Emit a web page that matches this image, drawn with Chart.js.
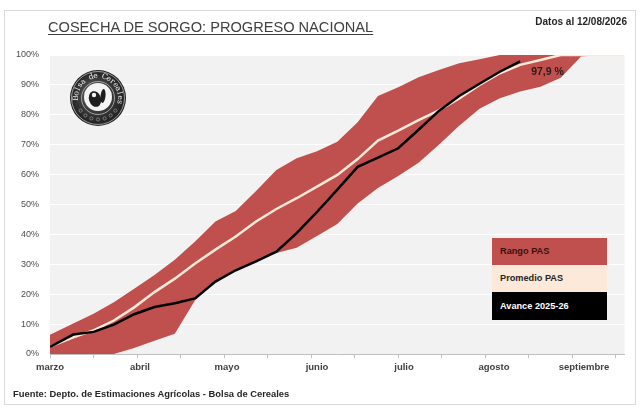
<!DOCTYPE html>
<html lang="es">
<head>
    <meta charset="UTF-8">
    <title>Cosecha de sorgo: progreso nacional</title>
    <script src="https://cdn.jsdelivr.net/npm/chart.js"></script>
    <style>
        body {
            margin: 0;
            background: #ffffff;
            font-family: "Liberation Sans", Arial, sans-serif;
        }
        #wrap {
            position: relative;
            width: 640px;
            height: 409px;
            overflow: hidden;
        }
        #frame {
            position: absolute;
            left: 4px; top: 10px;
            width: 630px; height: 393px;
            border: 1px solid #d9d9d9;
        }
        #chartBox {
            position: absolute;
            left: 0; top: 0;
            width: 640px; height: 409px;
        }
        .txt {
            position: absolute;
            white-space: nowrap;
            z-index: 2;
        }
        #title {
            left: 48px; top: 19px;
            font-size: 14.6px;
            color: #404040;
            text-decoration: underline;
            text-underline-offset: 2px;
        }
        #fecha {
            right: 13px; top: 16px;
            font-size: 10px;
            font-weight: bold;
            color: #262626;
        }
        #fuente {
            left: 13px; top: 388px;
            font-size: 9.4px;
            font-weight: bold;
            color: #262626;
        }
        .leg {
            position: absolute;
            left: 492px;
            width: 115px;
            z-index: 2;
            font-size: 9.2px;
            font-weight: bold;
            box-sizing: border-box;
            padding-left: 8px;
        }
    </style>
</head>
<body>
<div id="wrap">
    <div id="frame"></div>
    <div id="chartBox"><canvas id="sorgoChart"></canvas></div>
    <div class="txt" id="title">COSECHA DE SORGO: PROGRESO NACIONAL</div>
    <div class="txt" id="fecha">Datos al 12/08/2026</div>
    <div class="txt" id="fuente">Fuente: Depto. de Estimaciones Agrícolas - Bolsa de Cereales</div>
    <div class="leg" id="legRango" style="top:238px;height:27px;line-height:27px;background:#c0504d;color:#3a1010;">Rango PAS</div>
    <div class="leg" id="legProm" style="top:265px;height:27px;line-height:27px;background:#fde9d9;color:#262626;">Promedio PAS</div>
    <div class="leg" id="legAvance" style="top:292px;height:28px;line-height:28px;background:#000000;color:#ffffff;">Avance 2025-26</div>
</div>

<script>
    // dias desde el 1 de marzo (fechas de relevamiento semanal)
    const dias = [0, 8, 15, 22, 29, 36, 43, 50, 57, 64, 71, 78, 85, 92, 99, 106, 113, 120, 127, 134, 141, 148, 155, 162, 169, 176, 183, 190, 198];

    // % cosechado
    const promedioPAS = [2.5, 5.6, 7.9, 11.2, 15.6, 20.7, 25.2, 30.3, 34.9, 39.3, 44.3, 48.5, 52.1, 56.0, 59.9, 65.2, 71.4, 74.7, 78.2, 81.5, 85.5, 90.0, 93.9, 96.7, 98.3, 100, 100, 100, 100];
    const rangoMax = [6.4, 10.2, 13.5, 17.3, 21.8, 26.4, 31.5, 37.6, 44.3, 47.8, 54.5, 61.5, 65.5, 67.8, 71.0, 77.5, 86.3, 89.2, 92.6, 95.0, 97.2, 98.6, 100, 100, 100, 100, 100, 100, 100];
    const rangoMin = [0, 0, 0, 0, 2.0, 4.4, 6.8, 18.0, 24.3, 27.8, 31.0, 33.8, 35.5, 39.5, 43.5, 50.3, 55.5, 59.5, 64.0, 70.0, 76.3, 82.0, 85.5, 87.8, 89.4, 92.4, 99.5, 100, 100];
    const avance = [2.4, 6.5, 7.4, 9.8, 13.3, 15.7, 17.0, 18.6, 24.2, 28.0, 31.0, 34.2, 40.4, 47.5, 55.0, 62.6, 65.7, 68.8, 75.0, 81.3, 86.3, 90.4, 94.4, 97.9];

    // eje x
    const mesesLabels = ['marzo', 'abril', 'mayo', 'junio', 'julio', 'agosto', 'septiembre'];
    const mesesDias = [0, 31, 61, 92, 122, 153, 184];
    const xMax = 198;
    const pasoMarcas = 15;

    const toPoints = (vals) => vals.map((v, i) => ({ x: dias[i], y: v }));

    const fondoPlot = {
        id: 'fondoPlot',
        beforeDraw(chart) {
            const { ctx, chartArea: a } = chart;
            ctx.save();
            ctx.fillStyle = '#f2f2f2';
            ctx.fillRect(a.left, a.top, a.width, a.height);
            ctx.restore();
        }
    };

    const etiquetaFinal = {
        id: 'etiquetaFinal',
        afterDatasetsDraw(chart) {
            const meta = chart.getDatasetMeta(0);
            const last = meta.data[meta.data.length - 1];
            if (!last) return;
            const ctx = chart.ctx;
            const v = avance[avance.length - 1];
            ctx.save();
            ctx.font = 'bold 10.5px "Liberation Sans", Arial, sans-serif';
            ctx.fillStyle = '#2a1a1a';
            ctx.textAlign = 'left';
            ctx.textBaseline = 'middle';
            ctx.fillText(v.toFixed(1).replace('.', ',') + ' %', last.x + 11, last.y + 11);
            ctx.restore();
        }
    };

    // sello de la Bolsa de Cereales
    const logo = {
        id: 'logo',
        afterDraw(chart) {
            const ctx = chart.ctx;
            const cx = 98, cy = 98, r = 28;
            ctx.save();
            const g = ctx.createRadialGradient(cx - 6, cy - 6, 4, cx, cy, r);
            g.addColorStop(0, '#5a5a5a');
            g.addColorStop(1, '#1e1e1e');
            ctx.fillStyle = g;
            ctx.beginPath(); ctx.arc(cx, cy, r, 0, Math.PI * 2); ctx.fill();
            ctx.strokeStyle = '#bdbdbd';
            ctx.lineWidth = 0.8;
            ctx.beginPath(); ctx.arc(cx, cy, r - 1.5, 0, Math.PI * 2); ctx.stroke();
            ctx.beginPath(); ctx.arc(cx, cy, 16.5, 0, Math.PI * 2); ctx.stroke();
            ctx.fillStyle = '#f4f4f4';
            ctx.beginPath(); ctx.arc(cx, cy - 1, 14, 0, Math.PI * 2); ctx.fill();
            // figura central
            ctx.fillStyle = '#1e1e1e';
            ctx.beginPath();
            ctx.ellipse(cx - 3, cy + 1, 6, 8, -0.3, 0, Math.PI * 2);
            ctx.fill();
            ctx.beginPath();
            ctx.ellipse(cx + 5, cy - 2, 2.5, 7, 0.1, 0, Math.PI * 2);
            ctx.fill();
            ctx.fillStyle = '#f4f4f4';
            ctx.beginPath(); ctx.arc(cx - 4, cy - 3, 2.2, 0, Math.PI * 2); ctx.fill();
            // texto en arco
            const texto = 'Bolsa de Cereales';
            ctx.font = '7.5px "DejaVu Serif", "Liberation Serif", serif';
            ctx.fillStyle = '#f0f0f0';
            ctx.textAlign = 'center';
            ctx.textBaseline = 'middle';
            const start = -Math.PI * 1.0, end = Math.PI * 0.06;
            const step = (end - start) / (texto.length - 1);
            for (let i = 0; i < texto.length; i++) {
                const ang = start + step * i;
                ctx.save();
                ctx.translate(cx + Math.cos(ang) * 22, cy + Math.sin(ang) * 22);
                ctx.rotate(ang + Math.PI / 2);
                ctx.fillText(texto[i], 0, 0);
                ctx.restore();
            }
            // ornamento inferior
            ctx.strokeStyle = '#a8a8a8';
            ctx.lineWidth = 0.6;
            for (let k = 0; k < 7; k++) {
                const ang = Math.PI * (0.2 + k * 0.1);
                ctx.beginPath();
                ctx.arc(cx + Math.cos(ang) * 21.5, cy + Math.sin(ang) * 21.5, 1.6, 0, Math.PI * 2);
                ctx.stroke();
            }
            ctx.restore();
        }
    };

    const ctx = document.getElementById('sorgoChart').getContext('2d');
    new Chart(ctx, {
        type: 'line',
        data: {
            datasets: [
                {
                    label: 'Avance 2025-26',
                    data: toPoints(avance),
                    borderColor: '#000000',
                    borderWidth: 2.5,
                    pointRadius: 0,
                    fill: false
                },
                {
                    label: 'Promedio PAS',
                    data: toPoints(promedioPAS),
                    borderColor: '#fde9d9',
                    borderWidth: 2.5,
                    pointRadius: 0,
                    fill: false
                },
                {
                    label: 'Rango PAS',
                    data: toPoints(rangoMax),
                    borderWidth: 0,
                    borderColor: 'rgba(0,0,0,0)',
                    backgroundColor: '#c0504d',
                    pointRadius: 0,
                    fill: '+1'
                },
                {
                    label: 'Rango PAS min',
                    data: toPoints(rangoMin),
                    borderWidth: 0,
                    borderColor: 'rgba(0,0,0,0)',
                    pointRadius: 0,
                    fill: false
                }
            ]
        },
        options: {
            responsive: true,
            maintainAspectRatio: false,
            animation: false,
            layout: { padding: { left: 0, top: 55, right: 15.4, bottom: 0 } },
            plugins: {
                legend: { display: false },
                tooltip: { enabled: false }
            },
            scales: {
                x: {
                    type: 'linear',
                    min: 0,
                    max: xMax,
                    afterFit: (s) => { s.height = 55; },
                    afterBuildTicks: (s) => {
                        const vals = new Set(mesesDias);
                        for (let d = 0; d <= xMax; d += pasoMarcas) vals.add(d);
                        s.ticks = [...vals].sort((a, b) => a - b).map(v => ({ value: v }));
                    },
                    ticks: {
                        autoSkip: false,
                        maxRotation: 0,
                        padding: 4,
                        color: '#404040',
                        font: { family: '"Liberation Sans", Arial, sans-serif', size: 9.5, weight: 'bold' },
                        callback: (v) => {
                            const i = mesesDias.indexOf(v);
                            return i >= 0 ? mesesLabels[i] : '';
                        }
                    },
                    grid: {
                        drawOnChartArea: false,
                        drawTicks: true,
                        tickLength: 4,
                        color: (c) => (c.tick && c.tick.value % pasoMarcas === 0) ? '#bfbfbf' : 'rgba(0,0,0,0)'
                    },
                    border: { display: true, color: '#bfbfbf', width: 1 }
                },
                y: {
                    min: 0,
                    max: 100,
                    afterFit: (s) => { s.width = 50; },
                    ticks: {
                        stepSize: 10,
                        padding: 11,
                        color: '#4d4d4d',
                        font: { family: '"Liberation Sans", Arial, sans-serif', size: 9 },
                        callback: (v) => v + '%'
                    },
                    grid: {
                        color: '#ffffff',
                        lineWidth: 1,
                        drawTicks: false
                    },
                    border: { display: false }
                }
            }
        },
        plugins: [fondoPlot, etiquetaFinal, logo]
    });
</script>
</body>
</html>
